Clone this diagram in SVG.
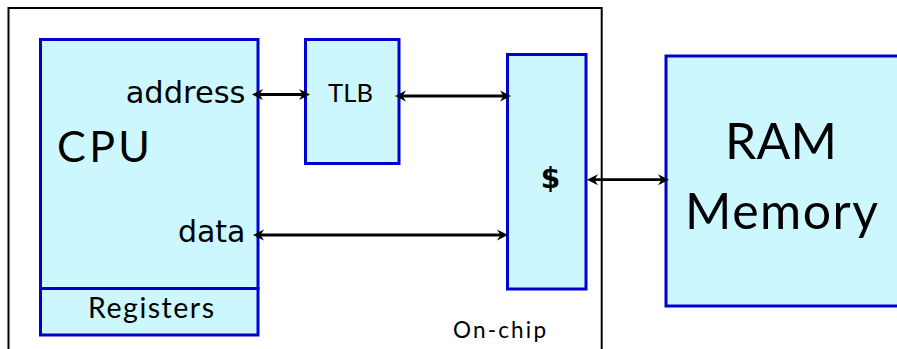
<svg xmlns="http://www.w3.org/2000/svg" width="897" height="349" viewBox="0 0 897 349">
<defs>
<style>
.box{fill:#ccf7ff;stroke:#0000cc;stroke-width:3}
.frame{fill:none;stroke:#000;stroke-width:2}
.wire{fill:none;stroke:#000;stroke-width:2.8;marker-start:url(#ah);marker-end:url(#ah)}
.dv{font-family:"DejaVu Sans",sans-serif;fill:#000}
.lb{font-family:Lato,"Noto Sans",sans-serif;fill:#000}
</style>
<marker id="ah" markerUnits="userSpaceOnUse" orient="auto-start-reverse" refX="0" refY="0" overflow="visible">
<path d="M4,0 L-7,-5.5 L-3.5,0 L-7,5.5 z" fill="#000"/>
</marker>
</defs>
<rect id="onchip-frame" class="frame" x="8.5" y="8" width="593.2" height="360"/>
<g id="cpu">
<rect class="box" x="40.5" y="39.5" width="217.5" height="249"/>
<text class="lb" x="57" y="162" font-size="43" textLength="93" lengthAdjust="spacing">CPU</text>
<text class="dv" x="245.5" y="103" font-size="30.5" text-anchor="end">address</text>
<text class="dv" x="245.5" y="242" font-size="30" text-anchor="end">data</text>
</g>
<g id="registers">
<rect class="box" x="40.5" y="288.5" width="217.5" height="46.5"/>
<text class="lb" x="88" y="318" font-size="28.5" textLength="126" lengthAdjust="spacing">Registers</text>
</g>
<g id="tlb">
<rect class="box" x="305.5" y="39.5" width="93.5" height="124"/>
<text class="lb" x="328" y="101.5" font-size="25.5" textLength="45" lengthAdjust="spacing">TLB</text>
</g>
<g id="cache">
<rect class="box" x="507.5" y="54.5" width="78.5" height="234.5"/>
<text class="dv" x="550.5" y="188" font-size="28" font-weight="bold" text-anchor="middle">$</text>
</g>
<g id="ram">
<rect class="box" x="666" y="56" width="233" height="250"/>
<text class="lb" x="725" y="159" font-size="50" textLength="112" lengthAdjust="spacing">RAM</text>
<text class="lb" x="685" y="229" font-size="50" textLength="193" lengthAdjust="spacing">Memory</text>
</g>
<g id="onchip-label">
<text class="lb" x="453" y="338" font-size="22.5" textLength="93" lengthAdjust="spacing">On-chip</text>
</g>
<g id="connectors">
<path class="wire" d="M256,94.5 H306"/>
<path class="wire" d="M399,96 H507"/>
<path class="wire" d="M257,235 H504"/>
<path class="wire" d="M591,179.7 H665"/>
</g>
</svg>
